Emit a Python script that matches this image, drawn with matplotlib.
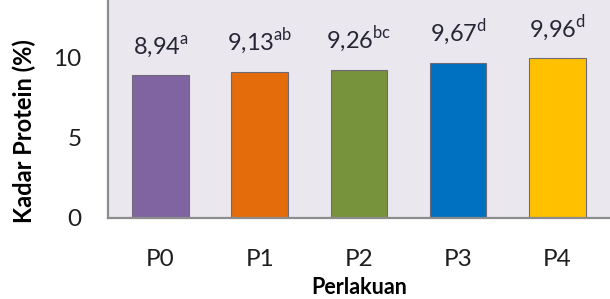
import matplotlib.pyplot as plt

# data
perlakuan = ["P0", "P1", "P2", "P3", "P4"]
protein = [8.94, 9.13, 9.26, 9.67, 9.96]
notasi = ["a", "ab", "bc", "d", "d"]
warna = ["#8064A2", "#E46C0A", "#77933C", "#0070C0", "#FFC000"]

plt.rcParams['font.family'] = ['Lato', 'DejaVu Sans']
plt.rcParams['mathtext.fontset'] = 'custom'
plt.rcParams['mathtext.rm'] = 'Lato'

fig = plt.figure(figsize=(6.10, 2.99), dpi=100)
ax = fig.add_axes([0.177, 0.271, 0.823, 0.729])
ax.set_facecolor("#EAE8EE")

x = range(len(perlakuan))
ax.bar(x, protein, width=0.57, color=warna, edgecolor="#6E6A78", linewidth=0.8, zorder=2)

# angka + notasi huruf di atas batang
for i, v in enumerate(protein):
    ax.annotate(f"{v:.2f}".replace(".", ",") + "$^{\\mathrm{" + notasi[i] + "}}$",
                (i, v), xytext=(0, 15), textcoords="offset points",
                ha="center", va="baseline", fontsize=17, color="#262636")

ax.set_xlim(-0.53, 4.53)
ax.set_ylim(0, 13.6)
ax.set_yticks([0, 5, 10])
ax.set_xticks(list(x))
ax.set_xticklabels(perlakuan)
ax.tick_params(length=0, labelsize=17.5, colors="#1E1E1E")
ax.tick_params(axis="y", pad=19)
ax.tick_params(axis="x", pad=22)

for s in ["top", "right"]:
    ax.spines[s].set_visible(False)
for s in ["left", "bottom"]:
    ax.spines[s].set_color("#8C8C8C")
    ax.spines[s].set_linewidth(1.6)

ax.set_ylabel("Kadar Protein (%)", fontsize=17, fontweight="bold")
ax.yaxis.set_label_coords(-0.143, 0.40)
ax.set_xlabel("Perlakuan", fontsize=15.5, fontweight="bold", labelpad=5.5)

fig.savefig("out.png", dpi=100)
